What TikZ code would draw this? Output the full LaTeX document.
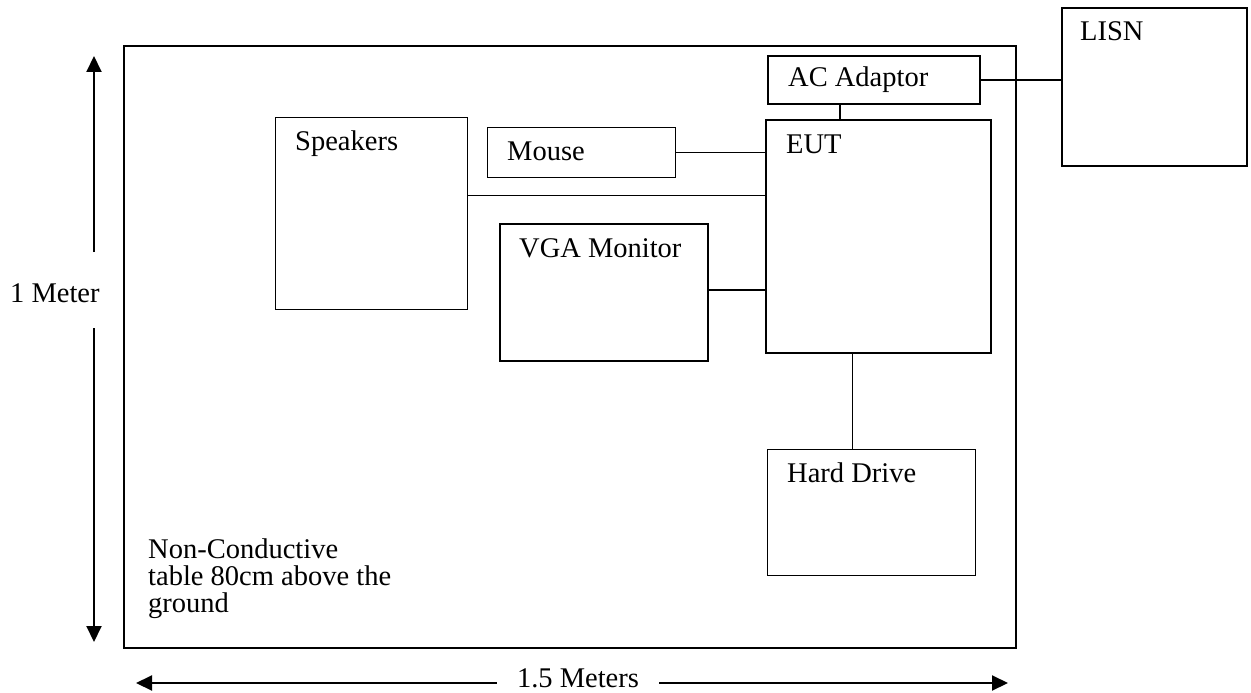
\documentclass[tikz,border=0pt]{standalone}
\usepackage{fontspec}
\setmainfont{Liberation Serif}
\usetikzlibrary{arrows.meta}
\begin{document}
\begin{tikzpicture}[x=1pt,y=-1pt,
  every node/.style={font=\fontsize{28.5pt}{27pt}\selectfont},
  box/.style={draw, line width=#1, anchor=north west, inner sep=0pt, minimum width=\bw, minimum height=\bh},
  box/.default=1.6pt,
  lbl/.style={anchor=base west, inner sep=0pt},
  wire/.style={line width=1.2pt},
  thickwire/.style={line width=2pt},
  dim/.style={line width=2pt, -{Triangle[length=16pt,width=15pt]}}
]
\useasboundingbox (0,0) rectangle (1251,693);
\newcommand{\mybox}[6]{%
  \def\bw{#4pt}\def\bh{#5pt}%
  \node[box=#6] (#1) at (#2,#3) {};}
% table
\mybox{table}{123}{45}{892}{602}{2pt}
\mybox{LISN}{1061}{7}{185}{158}{2pt}
\mybox{AC}{767}{55}{212}{48}{2pt}
\mybox{EUT}{765}{119}{225}{233}{2pt}
\mybox{Spk}{275}{117}{192}{192}{1.4pt}
\mybox{Mouse}{487}{127}{188}{50}{1.4pt}
\mybox{VGA}{499}{223}{208}{137}{2pt}
\mybox{HD}{767}{449}{208}{126}{1.4pt}
% labels
\node[lbl] (tLISN) at (1080,41) {LISN};
\node[lbl] (tAC) at (788,87) {AC Adaptor};
\node[lbl] (tEUT) at (786,153) {EUT};
\node[lbl] (tSpk) at (295,150) {Speakers};
\node[lbl] (tMouse) at (507,160) {Mouse};
\node[lbl] (tVGA) at (519,257) {VGA Monitor};
\node[lbl] (tHD) at (787,482) {Hard Drive};
\node[lbl, align=left] (tTable) at (148,612) {Non-Conductive\\table 80cm above the\\ground};
% connectors
\draw[thickwire] (AC.east) -- (AC.east -| LISN.west);
\draw[thickwire] ([xshift=-34pt]AC.south) -- ([xshift=-34pt]AC.south |- EUT.north);
\draw[wire] (Mouse.east) -- (Mouse.east -| EUT.west);
\draw[wire] ([yshift=18pt]Spk.east) -- ([yshift=18pt]Spk.east -| EUT.west);
\draw[thickwire] ([yshift=3pt]VGA.east) -- ([yshift=3pt]VGA.east -| EUT.west);
\draw[wire] ([xshift=-26pt]EUT.south) -- ([xshift=-26pt]EUT.south |- HD.north);
% dimensions
\node[lbl] (meter) at (10,302) {1 Meter};
\coordinate (vtop) at (94,56);
\coordinate (vbot) at (94,642);
\draw[dim] (94,252) -- (vtop);
\draw[dim] (94,328) -- (vbot);
\node[inner sep=0pt, anchor=base] (len) at (578,687) {1.5 Meters};
\coordinate (hl) at (136,683);
\coordinate (hr) at (1008,683);
\draw[dim] ([xshift=-20pt]len.west |- hl) -- (hl);
\draw[dim] ([xshift=20pt]len.east |- hr) -- (hr);
\end{tikzpicture}
\end{document}
